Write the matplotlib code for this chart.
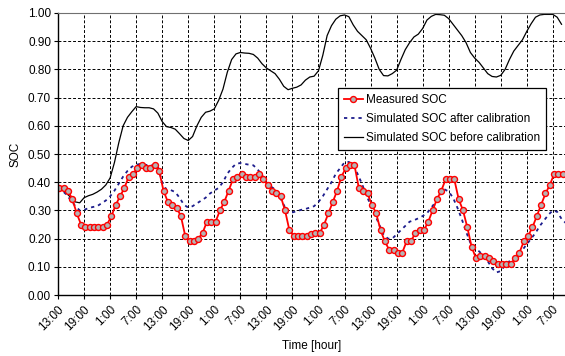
import numpy as np
import matplotlib
matplotlib.use("Agg")
import matplotlib.pyplot as plt
from matplotlib.ticker import MultipleLocator, FormatStrFormatter

plt.rcParams['font.family'] = ['Liberation Sans', 'DejaVu Sans']

# measured SOC, hourly samples starting a little after 13:00
measured = [
    0.38, 0.38, 0.37, 0.34, 0.29, 0.25, 0.24, 0.24, 0.24, 0.24,
    0.24, 0.25, 0.28, 0.32, 0.35, 0.38, 0.42, 0.43, 0.45, 0.46,
    0.45, 0.45, 0.46, 0.44, 0.37, 0.33, 0.32, 0.31, 0.28, 0.21,
    0.19, 0.19, 0.20, 0.22, 0.26, 0.26, 0.26, 0.30, 0.33, 0.37,
    0.41, 0.42, 0.43, 0.42, 0.42, 0.42, 0.43, 0.41, 0.39, 0.37,
    0.36, 0.35, 0.30, 0.23, 0.21, 0.21, 0.21, 0.21, 0.215, 0.22,
    0.22, 0.25, 0.29, 0.33, 0.37, 0.42, 0.45, 0.46, 0.46, 0.38,
    0.37, 0.36, 0.32, 0.29, 0.23, 0.19, 0.16, 0.16, 0.15, 0.15,
    0.19, 0.19, 0.22, 0.23, 0.23, 0.26, 0.30, 0.34, 0.37, 0.41,
    0.41, 0.41, 0.34, 0.30, 0.24, 0.17, 0.13, 0.14, 0.14, 0.13,
    0.12, 0.11, 0.11, 0.11, 0.11, 0.13, 0.15, 0.19, 0.21, 0.24,
    0.28, 0.32, 0.36, 0.39, 0.43, 0.43, 0.43,
]
meas_t = np.arange(len(measured)) + 0.3

# simulated SOC after calibration (hourly)
sim_after = [
    0.38, 0.37, 0.355, 0.335, 0.315, 0.30, 0.302, 0.308, 0.312, 0.315,
    0.325, 0.335, 0.35, 0.37, 0.395, 0.42, 0.44, 0.455, 0.462, 0.465,
    0.462, 0.46, 0.46, 0.455, 0.40, 0.373, 0.372, 0.365, 0.345, 0.32,
    0.31, 0.315, 0.325, 0.335, 0.345, 0.36, 0.37, 0.38, 0.40, 0.43,
    0.45, 0.465, 0.468, 0.465, 0.462, 0.46, 0.445, 0.425, 0.40, 0.385,
    0.375, 0.35, 0.32, 0.29, 0.293, 0.297, 0.302, 0.305, 0.31, 0.315,
    0.33, 0.35, 0.375, 0.40, 0.43, 0.45, 0.47, 0.472, 0.46, 0.43,
    0.395, 0.355, 0.32, 0.285, 0.25, 0.215, 0.20, 0.20, 0.215, 0.23,
    0.245, 0.26, 0.265, 0.272, 0.28, 0.29, 0.31, 0.33, 0.355, 0.375,
    0.367, 0.345, 0.31, 0.27, 0.225, 0.185, 0.165, 0.155, 0.14, 0.12,
    0.095, 0.08, 0.085, 0.105, 0.12, 0.13, 0.145, 0.16, 0.18, 0.20,
    0.22, 0.245, 0.265, 0.285, 0.30, 0.295, 0.27, 0.255,
]
after_t = np.arange(len(sim_after))

# simulated SOC before calibration (hourly)
sim_before = [
    0.385, 0.375, 0.36, 0.345, 0.33, 0.327, 0.345, 0.352, 0.357, 0.365,
    0.375, 0.39, 0.415, 0.47, 0.54, 0.60, 0.63, 0.65, 0.668, 0.665,
    0.664, 0.664, 0.66, 0.645, 0.615, 0.597, 0.594, 0.588, 0.572, 0.555,
    0.548, 0.562, 0.60, 0.63, 0.648, 0.652, 0.66, 0.69, 0.73, 0.79,
    0.835, 0.855, 0.86, 0.858, 0.857, 0.853, 0.84, 0.82, 0.805, 0.795,
    0.785, 0.765, 0.74, 0.728, 0.733, 0.737, 0.745, 0.762, 0.773, 0.776,
    0.795, 0.85, 0.92, 0.955, 0.978, 0.99, 0.993, 0.987, 0.958, 0.935,
    0.92, 0.905, 0.875, 0.84, 0.80, 0.778, 0.777, 0.785, 0.797, 0.835,
    0.87, 0.895, 0.915, 0.925, 0.945, 0.975, 0.988, 0.995, 0.994, 0.992,
    0.98, 0.96, 0.94, 0.92, 0.895, 0.86, 0.84, 0.825, 0.805, 0.785,
    0.775, 0.773, 0.779, 0.80, 0.835, 0.865, 0.885, 0.905, 0.935, 0.962,
    0.985, 0.993, 0.995, 0.995, 0.995, 0.985, 0.96,
]
before_t = np.arange(len(sim_before))

tick_labels = ["13:00", "19:00", "1:00", "7:00"] * 5

fig = plt.figure(figsize=(5.65, 3.56), dpi=100)
ax = fig.add_axes([0.1027, 0.1713, 0.8973, 0.7922])

ax.plot(before_t, sim_before, "k-", lw=0.9,
        label="Simulated SOC before calibration")
ax.plot(after_t, sim_after, color="#1c1c8c", lw=1.3, ls=(0, (1.8, 2.2)),
        label="Simulated SOC after calibration")
ax.plot(meas_t, measured, color="#ff0000", lw=1.3, marker="o", ms=4.3,
        mfc="#b4b4b4", mec="#ff0000", mew=1.0, label="Measured SOC")

ax.set_xlim(0, 116.8)
ax.set_ylim(0, 1.0)
ax.yaxis.set_major_locator(MultipleLocator(0.1))
ax.yaxis.set_major_formatter(FormatStrFormatter("%.2f"))
ax.set_xticks(np.arange(0, 115, 6))
ax.set_xticklabels(tick_labels, rotation=45, ha="right", rotation_mode="anchor")
ax.tick_params(axis="both", labelsize=8.5, length=3, width=0.8, direction="out",
               pad=2)
ax.tick_params(axis="x", pad=3)

ax.grid(True, color="black", ls=(0, (3, 2)), lw=0.7)
ax.set_axisbelow(True)
ax.spines['right'].set_visible(False)
ax.spines['top'].set_color("#707070")
ax.spines['left'].set_linewidth(1.0)
ax.spines['bottom'].set_linewidth(1.0)

ax.set_xlabel("Time [hour]", fontsize=8.5, labelpad=5)
ax.set_ylabel("SOC", fontsize=8.5, labelpad=5)

handles, labels = ax.get_legend_handles_labels()
order = [2, 1, 0]
leg = ax.legend([handles[i] for i in order], [labels[i] for i in order],
                loc="upper left", bbox_to_anchor=(0.552, 0.733),
                borderaxespad=0, fontsize=8.5, fancybox=False, framealpha=1,
                edgecolor="black", handlelength=1.6, borderpad=0.5,
                labelspacing=0.6, handletextpad=0.3)
leg.get_frame().set_linewidth(0.9)

fig.savefig("out.png", dpi=100)
